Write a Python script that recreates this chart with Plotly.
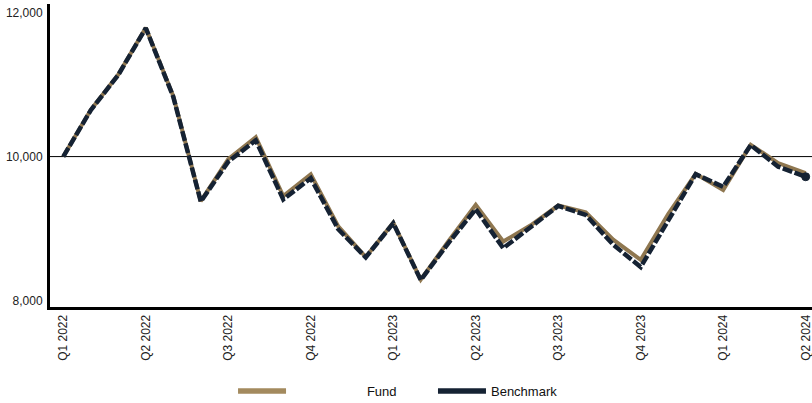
import plotly.graph_objects as go

QUARTER_LABELS = ["Q1 2022", "Q2 2022", "Q3 2022", "Q4 2022", "Q1 2023",
                  "Q2 2023", "Q3 2023", "Q4 2023", "Q1 2024", "Q2 2024"]

FUND = [10000, 10650, 11140, 11790, 10840, 9380, 9965, 10270, 9450, 9755,
        9030, 8605, 9080, 8290, 8820, 9330, 8820, 9045, 9320, 9225,
        8845, 8565, 9200, 9760, 9535, 10165, 9910, 9770]

BENCHMARK = [10000, 10645, 11135, 11785, 10830, 9375, 9930, 10225, 9405, 9700,
             8990, 8600, 9075, 8285, 8795, 9270, 8727, 9025, 9315, 9190,
             8775, 8465, 9120, 9755, 9580, 10160, 9860, 9720]

BASELINE = 10000
Y_TICKS = [8000, 10000, 12000]

FUND_COLOR = "#8F7750"
FUND_LEGEND_COLOR = "#A38A5E"
BENCH_COLOR = "#152233"

n = len(FUND)
x = list(range(n))
tickvals = list(range(0, n, 3))

fig = go.Figure()
fig.add_trace(go.Scatter(x=x, y=FUND, mode="lines", showlegend=False,
                         line=dict(color=FUND_COLOR, width=4), hoverinfo="skip"))
fig.add_trace(go.Scatter(x=x, y=BENCHMARK, mode="lines", showlegend=False,
                         line=dict(color=BENCH_COLOR, width=4.5, dash="10px,2.5px"),
                         hoverinfo="skip"))
# end-point marker of the benchmark
fig.add_trace(go.Scatter(x=[x[-1]], y=[BENCHMARK[-1]], mode="markers", showlegend=False,
                         marker=dict(color=BENCH_COLOR, size=8, opacity=1,
                                     line=dict(color=BENCH_COLOR, width=1)),
                         hoverinfo="skip"))
# legend entries
fig.add_trace(go.Scatter(x=[None], y=[None], mode="lines",
                         name="\u00a0" * 21 + "Fund",
                         line=dict(color=FUND_LEGEND_COLOR, width=5.5), legend="legend"))
fig.add_trace(go.Scatter(x=[None], y=[None], mode="lines", name="Benchmark",
                         line=dict(color=BENCH_COLOR, width=5.5), legend="legend2"))

fig.add_shape(type="line", xref="paper", x0=0, x1=1, yref="y", y0=BASELINE, y1=BASELINE,
              line=dict(color="#000000", width=1), layer="below")

fig.update_layout(
    width=812, height=403,
    margin=dict(l=50, r=0, t=4, b=96, autoexpand=False),
    plot_bgcolor="white", paper_bgcolor="white",
    hovermode=False,
    font=dict(family="Liberation Sans, Arial, sans-serif", size=12, color="#222222"),
    legend=dict(orientation="h", x=0.2402, xanchor="left", y=-0.228, yanchor="top",
                itemwidth=48, font=dict(size=13, color="#111111"),
                bgcolor="rgba(0,0,0,0)"),
    legend2=dict(orientation="h", x=0.5026, xanchor="left", y=-0.228, yanchor="top",
                 itemwidth=48, font=dict(size=13, color="#111111"),
                 bgcolor="rgba(0,0,0,0)"),
    xaxis=dict(range=[-0.484, 27.23], tickmode="array", tickvals=tickvals,
               ticktext=QUARTER_LABELS, tickangle=-90, showgrid=False, zeroline=False,
               showline=True, linecolor="#000000", linewidth=3, ticks="",
               automargin=False, ticklabeloverflow="allow",
               tickfont=dict(size=12, color="#222222")),
    yaxis=dict(range=[7910, 12120], tickmode="array", tickvals=Y_TICKS,
               tickformat=",d", showgrid=False, zeroline=False,
               showline=True, linecolor="#000000", linewidth=3, ticks="",
               automargin=False, ticklabelstandoff=2,
               tickfont=dict(size=12, color="#222222")),
)

fig.write_html("out.html", config={"displayModeBar": False},
               post_script="document.body.style.margin='0';document.body.style.overflow='hidden';")
